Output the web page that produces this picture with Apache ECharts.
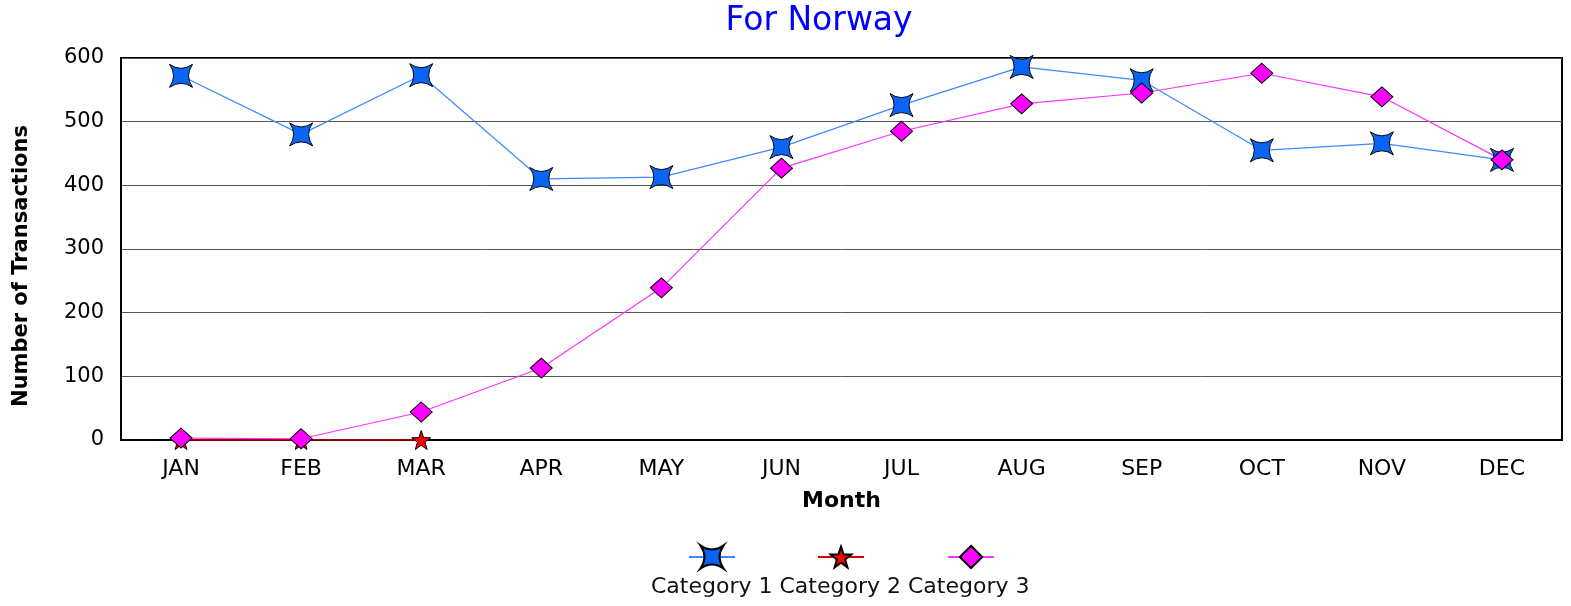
<!DOCTYPE html>
<html>
<head>
<meta charset="utf-8">
<script src="https://cdn.jsdelivr.net/npm/echarts@6/dist/echarts.min.js"></script>
<style>
  html, body { margin: 0; padding: 0; background: #fff; }
  #chart { width: 1571px; height: 606px; }
</style>
</head>
<body>
<div id="chart"></div>
<script>
const months = ["JAN", "FEB", "MAR", "APR", "MAY", "JUN", "JUL", "AUG", "SEP", "OCT", "NOV", "DEC"];
const category1 = [572, 480, 573, 410, 413, 460, 526, 586, 565, 455, 466, 440];
const category2 = [0, 0, 0, null, null, null, null, null, null, null, null, null];
const category3 = [3, 2, 44, 113, 239, 427, 485, 528, 545, 576, 539, 440];
const seriesNames = ["Category 1", "Category 2", "Category 3"];

const font = "DejaVu Sans, Verdana, sans-serif";
// four-point star with its tips on the diagonals
const starFour = "path://M0,0 Q10,7 20,0 Q13,10 20,20 Q10,13 0,20 Q7,10 0,0 Z";
const starFive = "path://M10,0 L12.35,6.76 L19.51,6.91 L13.8,11.24 L15.88,18.09 L10,14 L4.12,18.09 L6.2,11.24 L0.49,6.91 L7.65,6.76 Z";
const diamond = "path://M10,0 L20,9 L10,18 L0,9 Z";

const chart = echarts.init(document.getElementById("chart"));

function iconLegend(name, left, size) {
  return {
    data: [name],
    left: left,
    top: 557 - 5 - size / 2,
    itemWidth: 46,
    itemHeight: size,
    formatter: () => "",
    selectedMode: false,
    textStyle: { fontSize: 1 }
  };
}

chart.setOption({
  animation: false,
  textStyle: { fontFamily: font },
  title: {
    text: "For Norway",
    left: 814,
    top: 0,
    textAlign: "center",
    textStyle: { color: "#0000ff", fontSize: 33, fontWeight: "normal", fontFamily: font }
  },
  legend: [
    iconLegend(seriesNames[0], 683, 29),
    iconLegend(seriesNames[1], 812, 26),
    iconLegend(seriesNames[2], 942, 28),
    {
      data: seriesNames,
      left: 640,
      top: 571,
      itemWidth: 0,
      itemHeight: 0,
      itemGap: 1,
      selectedMode: false,
      textStyle: { fontSize: 22, color: "#111", fontFamily: font }
    }
  ],
  grid: {
    left: 121,
    right: 9,
    top: 58,
    bottom: 166,
    show: true,
    borderColor: "#000",
    borderWidth: 2
  },
  xAxis: {
    type: "category",
    data: months,
    boundaryGap: true,
    name: "Month",
    nameLocation: "middle",
    nameGap: 50,
    nameTextStyle: { fontSize: 22, fontWeight: "bold", color: "#000", fontFamily: font },
    axisLine: { lineStyle: { color: "#000", width: 2 } },
    axisTick: { show: false },
    axisLabel: { fontSize: 22, color: "#000", margin: 18 }
  },
  yAxis: {
    type: "value",
    min: 0,
    max: 600,
    interval: 100,
    name: "Number of Transactions",
    nameLocation: "middle",
    nameGap: 89,
    nameTextStyle: { fontSize: 21, fontWeight: "bold", color: "#000", fontFamily: font, padding: [0, 34, 0, 0] },
    axisLine: { show: true, lineStyle: { color: "#000", width: 2 } },
    axisTick: { show: false },
    axisLabel: { fontSize: 21, color: "#000", margin: 17 },
    splitLine: { lineStyle: { color: "#555", width: 1 } }
  },
  series: [
    {
      name: seriesNames[0],
      type: "line",
      data: category1,
      symbol: starFour,
      symbolSize: 23,
      color: "#0a64f5",
      lineStyle: { color: "#3d88ff", width: 1.2 },
      itemStyle: { color: "#0a64f5", borderColor: "#000", borderWidth: 1 }
    },
    {
      name: seriesNames[1],
      type: "line",
      data: category2,
      symbol: starFive,
      symbolSize: 19,
      color: "#ff0000",
      lineStyle: { color: "#d40000", width: 1.5 },
      itemStyle: { color: "#ff0000", borderColor: "#000", borderWidth: 1 }
    },
    {
      name: seriesNames[2],
      type: "line",
      data: category3,
      symbol: diamond,
      symbolSize: [22, 20],
      color: "#ff00ff",
      lineStyle: { color: "#ff33ff", width: 1.2 },
      itemStyle: { color: "#ff00ff", borderColor: "#000", borderWidth: 1 }
    }
  ]
});
</script>
</body>
</html>
